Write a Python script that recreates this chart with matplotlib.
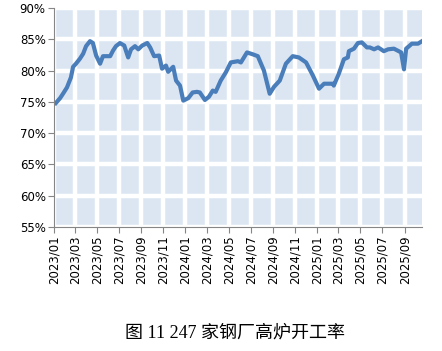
import numpy as np
import pandas as pd
import matplotlib
matplotlib.use("Agg")
import matplotlib.pyplot as plt
import matplotlib.dates as mdates
from matplotlib.ticker import FuncFormatter

# blast furnace utilisation
dates = ["2023-01-06", "2023-01-18", "2023-01-26", "2023-02-06", "2023-02-17", "2023-02-23",
         "2023-03-03", "2023-03-14", "2023-03-23", "2023-03-31", "2023-04-11", "2023-04-19",
         "2023-04-28", "2023-05-09", "2023-05-17", "2023-06-06", "2023-06-14", "2023-06-22",
         "2023-07-03", "2023-07-15", "2023-07-26", "2023-08-03", "2023-08-14", "2023-08-23",
         "2023-09-03", "2023-09-17", "2023-09-25", "2023-10-06", "2023-10-20", "2023-10-28",
         "2023-11-08", "2023-11-14", "2023-11-28", "2023-12-06", "2023-12-17", "2023-12-26",
         "2024-01-09", "2024-01-21", "2024-02-02", "2024-02-10", "2024-02-24", "2024-03-06",
         "2024-03-17", "2024-03-25", "2024-04-08", "2024-04-22", "2024-05-06", "2024-05-26",
         "2024-06-03", "2024-06-20", "2024-07-06", "2024-07-20", "2024-08-06", "2024-08-22",
         "2024-09-03", "2024-09-19", "2024-10-06", "2024-10-25", "2024-11-11", "2024-12-01",
         "2024-12-20", "2025-01-06", "2025-01-20", "2025-02-14", "2025-02-16", "2025-03-02",
         "2025-03-16", "2025-03-27", "2025-03-30", "2025-04-13", "2025-04-24", "2025-05-05",
         "2025-05-19", "2025-05-27", "2025-06-08", "2025-06-19", "2025-07-05", "2025-07-17",
         "2025-08-02", "2025-08-22", "2025-08-30", "2025-09-05", "2025-09-21", "2025-10-08",
         "2025-10-19"]
rate = [74.8, 75.6, 76.3, 77.3, 78.9, 80.6,
        81.1, 81.9, 82.7, 83.9, 84.7, 84.4,
        82.4, 81.1, 82.3, 82.3, 83.2, 83.9,
        84.4, 84.0, 82.1, 83.4, 83.9, 83.4,
        84.0, 84.4, 83.7, 82.3, 82.4, 80.3,
        80.8, 79.8, 80.6, 78.4, 77.6, 75.2,
        75.6, 76.5, 76.6, 76.5, 75.3, 75.8,
        76.8, 76.6, 78.4, 79.7, 81.3, 81.5,
        81.3, 82.9, 82.6, 82.3, 80.0, 76.3,
        77.4, 78.4, 81.1, 82.3, 82.1, 81.3,
        79.2, 77.1, 77.9, 77.9, 77.6, 79.5,
        81.8, 82.1, 83.1, 83.5, 84.4, 84.5,
        83.7, 83.7, 83.4, 83.7, 83.1, 83.4,
        83.5, 82.9, 80.2, 83.5, 84.3, 84.3,
        84.7]
tick_months = pd.date_range("2023-01-01", "2025-09-01", freq="2MS")
y_ticks = [55, 60, 65, 70, 75, 80, 85, 90]
caption = "图 11 247 家钢厂高炉开工率"

dates = pd.to_datetime(dates)

fig = plt.figure(figsize=(4.42, 3.51), dpi=100)
ax = fig.add_axes([54 / 442, 1 - 227 / 351, (422 - 54) / 442, (227 - 8) / 351])
ax.set_facecolor("#dce6f2")

ax.plot(dates, rate, color="#4a7ebb", lw=3, solid_joinstyle="round", zorder=3)

ax.set_ylim(55, 90)
ax.set_yticks(y_ticks)
ax.yaxis.set_major_formatter(FuncFormatter(lambda v, p: f"{v:.0f}%"))
ax.set_xlim(pd.Timestamp("2023-01-01"), dates[-1])
ax.set_xticks(tick_months)
ax.xaxis.set_major_formatter(mdates.DateFormatter("%Y/%m"))
ax.tick_params(axis="x", rotation=90, labelsize=8.5, length=4, color="#868686", pad=2)
ax.tick_params(axis="y", labelsize=8.5, length=4, color="#868686", pad=2)

ax.grid(True, color="white", lw=3.2, zorder=1)
ax.set_axisbelow(True)
for s in ["top", "right"]:
    ax.spines[s].set_visible(False)
for s in ["left", "bottom"]:
    ax.spines[s].set_color("#868686")
    ax.spines[s].set_zorder(4)

fig.text(0.532, 1 - 333 / 351, caption, ha="center", va="center", fontsize=13,
         family=["Liberation Serif", "Noto Sans CJK SC"], weight="light")

fig.savefig("out.png", dpi=100)
